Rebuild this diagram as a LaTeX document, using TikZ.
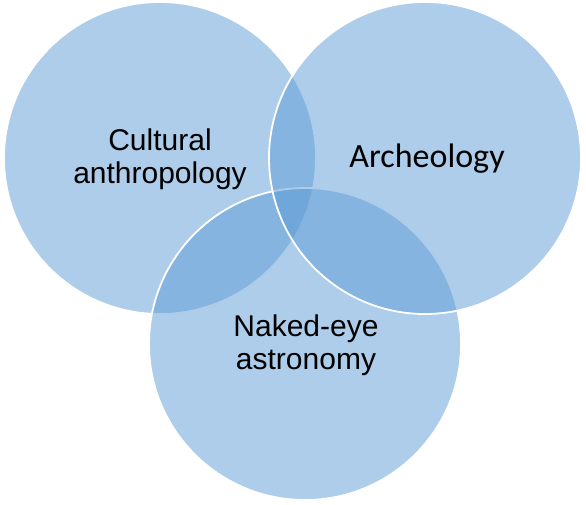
\documentclass[tikz,border=0pt]{standalone}
\usepackage{fontspec}
\setmainfont{Liberation Sans}
\newfontfamily\calibrifont{Carlito}
\definecolor{vennblue}{HTML}{5B9BD5}
\tikzset{
  venn/.style={circle, minimum size=312pt, inner sep=0pt, fill=vennblue, fill opacity=0.5, draw=white, draw opacity=1, line width=1.8pt},
  lbl/.style={text=black, align=center, font=\fontsize{30}{33}\selectfont, inner sep=0pt}
}
\begin{document}
\begin{tikzpicture}[x=1pt, y=-1pt]
\useasboundingbox (0,0) rectangle (586,504);
\node[venn] (c1) at (160,158) {};
\node[venn] (c3) at (305,344) {};
\node[venn] (c2) at (425,158) {};
\node[lbl] (t1) at (160,159) {Cultural\\anthropology};
\node[lbl, font=\calibrifont\fontsize{34}{36}\selectfont, anchor=base] (t2) at (427,167) {Archeology};
\node[lbl] (t3) at (306,345) {Naked-eye\\astronomy};
\end{tikzpicture}
\end{document}
